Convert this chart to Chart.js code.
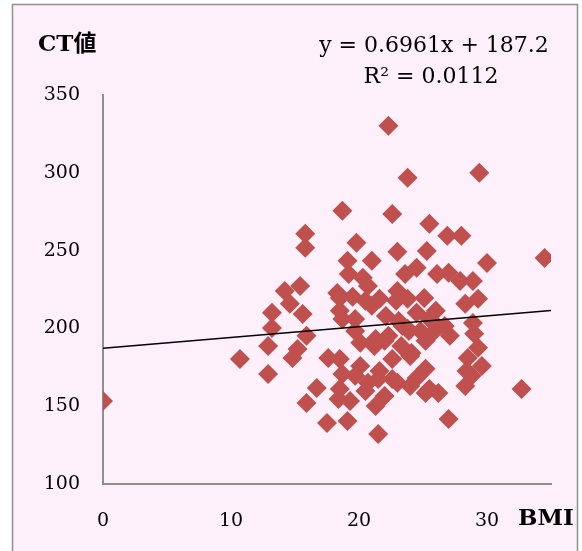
<!DOCTYPE html>
<html>
<head>
<meta charset="utf-8">
<script src="https://cdn.jsdelivr.net/npm/chart.js@4/dist/chart.umd.min.js"></script>
<style>
html,body{margin:0;padding:0;background:#fff;}
canvas{display:block;}
</style>
</head>
<body>
<canvas id="c" width="582" height="551"></canvas>
<script>
// BMI values (x)
const bmi = [
  22.3, 23.8, 29.4, 18.7, 22.6, 25.5, 28.0, 26.9, 15.8, 15.8, 19.8, 19.1, 21.0, 23.0, 25.3, 30.0, 34.5, 19.2, 20.3, 23.6, 26.1, 27.0, 27.9, 28.9, 24.5,
  14.2, 15.4, 14.6, 13.2, 15.6, 18.3, 18.5, 19.5, 20.5, 20.7, 21.0, 21.6, 22.9, 23.0, 23.8, 24.5, 25.1, 26.0, 28.3, 29.3, 18.5, 19.7, 18.7, 22.1, 25.5,
  13.2, 12.9, 15.9, 15.2, 14.8, 17.6, 18.5, 20.1, 21.3, 22.3, 23.1, 23.4, 23.8, 23.9, 23.3, 24.1, 22.0, 25.2, 25.9, 26.1, 28.9, 29.0, 29.3, 28.5, 22.6, 24.0, 21.2, 19.7, 24.8, 27.1, 26.7,
  10.7, 12.9, 18.7, 20.1, 19.7, 20.7, 21.5, 21.6, 23.0, 24.5, 25.2, 25.2, 26.2, 25.5, 29.6, 28.4, 28.8, 28.3, 18.5, 18.4, 19.3, 16.7, 15.9, 21.3, 0.0, 32.7, 22.6, 24.0, 20.5, 22.0,
  17.5, 19.1, 21.5, 27.0
];
// CT values (y)
const ct = [
  330.2, 296.8, 300.0, 275.6, 273.6, 267.2, 259.5, 259.5, 260.8, 251.8, 255.0, 243.4, 243.4, 249.2, 249.8, 242.1, 245.3, 235.0, 232.5, 235.0, 235.0, 235.7, 230.5, 230.5, 238.9,
  224.1, 227.3, 215.8, 210.0, 209.3, 222.8, 219.6, 220.3, 217.7, 227.3, 214.5, 219.0, 217.7, 224.1, 219.0, 210.0, 219.6, 211.3, 215.8, 219.0, 211.3, 206.1, 206.1, 208.0, 206.1,
  200.3, 188.7, 195.2, 186.8, 181.0, 181.0, 180.4, 190.7, 193.2, 195.2, 204.8, 201.6, 199.7, 198.4, 188.7, 184.2, 192.0, 192.0, 198.4, 201.6, 203.5, 196.5, 187.5, 181.0, 180.4, 182.3, 188.7, 198.4, 198.4, 195.2, 201.6,
  180.4, 170.7, 170.7, 175.9, 169.5, 165.0, 167.5, 172.7, 165.0, 168.2, 174.0, 158.5, 158.5, 161.1, 175.9, 172.7, 169.5, 163.0, 161.1, 154.7, 153.4, 161.7, 152.1, 150.2, 153.4, 161.1, 167.5, 163.0, 159.8, 156.6,
  139.2, 140.5, 132.2, 141.8
];
// Linear trendline (from the chart's equation)
const trendSlope = 0.6961;
const trendIntercept = 187.2;
const trendX = [0, 35];
const xTicks = [0, 10, 20, 30];
const yTicks = [100, 150, 200, 250, 300, 350];
const eqLines = ['y = 0.6961x + 187.2', 'R² = 0.0112'];
const yTitle = 'CT値';
const xTitle = 'BMI';

const points = bmi.map((x, i) => ({x: x, y: ct[i]}));
const trend = trendX.map(x => ({x: x, y: trendSlope * x + trendIntercept}));

const SERIF = '"DejaVu Serif", "Liberation Serif", "Noto Sans CJK JP", serif';

const bgPlugin = {
  id: 'bg',
  beforeDraw(chart) {
    const ctx = chart.ctx;
    ctx.save();
    ctx.fillStyle = '#ffffff';
    ctx.fillRect(0, 0, chart.width, chart.height);
    ctx.fillStyle = '#FEF0FB';
    ctx.fillRect(12.5, 4.5, 565, 560);
    ctx.strokeStyle = '#8f8f8f';
    ctx.lineWidth = 1.5;
    ctx.strokeRect(12.5, 4.5, 565, 560);
    ctx.restore();
  },
  afterDraw(chart) {
    const ctx = chart.ctx;
    ctx.save();
    ctx.fillStyle = '#000';
    ctx.textBaseline = 'middle';
    ctx.font = 'bold 23px ' + SERIF;
    ctx.textAlign = 'left';
    ctx.fillText(yTitle, 38, 45);
    ctx.fillText(xTitle, 518, 519);
    ctx.font = '22px ' + SERIF;
    ctx.textAlign = 'center';
    ctx.fillText(eqLines[0], 434, 46);
    ctx.fillText(eqLines[1], 431, 77);
    ctx.restore();
  }
};

new Chart(document.getElementById('c'), {
  type: 'scatter',
  data: {
    datasets: [
      {
        type: 'line',
        data: trend,
        borderColor: '#000000',
        borderWidth: 1.5,
        pointRadius: 0,
        fill: false,
        order: 0
      },
      {
        data: points,
        pointStyle: 'rectRot',
        pointRadius: 10,
        pointHoverRadius: 10,
        pointBackgroundColor: '#C0504D',
        pointBorderColor: '#C0504D',
        pointBorderWidth: 0,
        order: 1
      }
    ]
  },
  options: {
    responsive: false,
    animation: false,
    events: [],
    layout: {padding: {left: 0, right: 31, top: 95, bottom: 0}},
    plugins: {legend: {display: false}, tooltip: {enabled: false}},
    scales: {
      x: {
        type: 'linear',
        min: 0, max: 35,
        afterFit(s) { s.height = 67; },
        afterBuildTicks(s) { s.ticks = xTicks.map(v => ({value: v})); },
        grid: {display: false, drawTicks: false},
        border: {display: true, color: '#8f8f8f', width: 2},
        ticks: {color: '#000', font: {family: SERIF, size: 19}, padding: 26, maxRotation: 0}
      },
      y: {
        type: 'linear',
        min: 100, max: 350,
        afterFit(s) { s.width = 103; },
        afterBuildTicks(s) { s.ticks = yTicks.map(v => ({value: v})); },
        grid: {display: false, drawTicks: false},
        border: {display: true, color: '#8f8f8f', width: 2},
        ticks: {color: '#000', font: {family: SERIF, size: 19}, padding: 23}
      }
    }
  },
  plugins: [bgPlugin]
});
</script>
</body>
</html>
